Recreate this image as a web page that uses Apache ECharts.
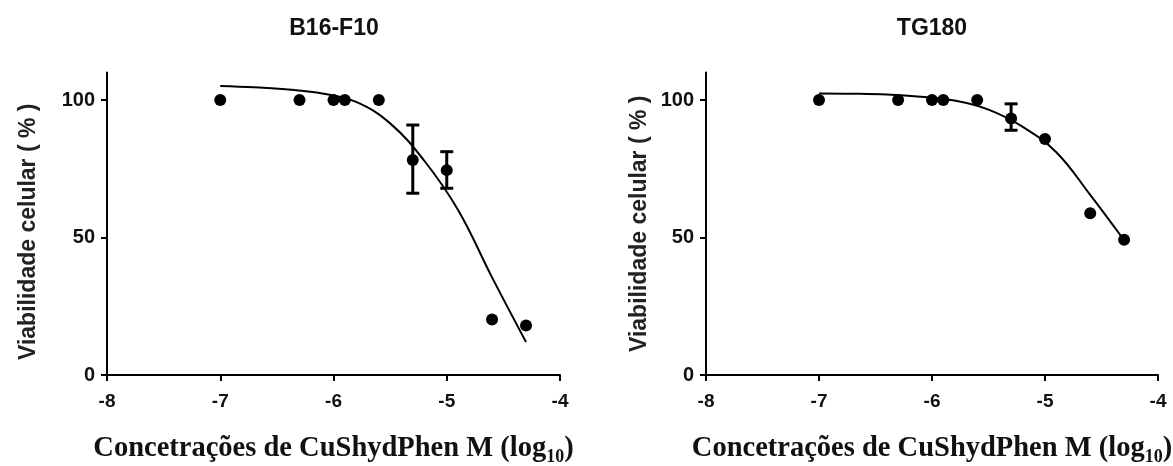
<!DOCTYPE html>
<html><head><meta charset="utf-8">
<script src="https://cdn.jsdelivr.net/npm/echarts@6/dist/echarts.min.js"></script>
<style>html,body{margin:0;padding:0;background:#fff}#chart{width:1173px;height:466px}</style>
</head><body><div id="chart"></div>
<script>
// ---- data ----
const panelTitles = ['B16-F10', 'TG180'];
const xTitle = 'Concetrações de CuShydPhen M (log{sub|10})';
const yTitle = 'Viabilidade celular ( % )';
const xTicks = [-8, -7, -6, -5, -4];
const yTicks = [0, 50, 100];

const logConc = [-7, -6.3, -6, -5.9, -5.6, -5.3, -5, -4.6, -4.3];
const b16Mean  = [100, 100, 100, 100, 100, 78.2, 74.5, 20.2, 18.0];
const b16Upper = [null, null, null, null, null, 90.9, 81.2, null, null];
const b16Lower = [null, null, null, null, null, 66.1, 67.9, null, null];
const tgMean   = [100, 100, 100, 100, 100, 93.3, 85.8, 58.8, 49.2];
const tgUpper  = [null, null, null, null, null, 98.6, null, null, null];
const tgLower  = [null, null, null, null, null, 89.0, null, null, null];

// fitted curves, every 0.3 log units
const fitX   = [-7, -6.7, -6.4, -6.1, -5.8, -5.5, -5.2, -4.9, -4.6, -4.3];
const b16Fit = [105.1, 104.6, 103.8, 102.4, 99.3, 91.5, 78, 60, 35.5, 12];
const tgFit  = [102.4, 102.3, 102.0, 101.2, 99.8, 96.5, 90.3, 81, 65.5, 49];

// ---- chart ----
const SANS = '"Liberation Sans", Arial, sans-serif';
const SERIF = '"Liberation Serif", "Times New Roman", serif';
const zip = (xs, ys) => xs.map((x, i) => [x, ys[i]]);
const bars = (xs, lo, hi) => xs.map((x, i) => [x, lo[i], hi[i]]).filter(d => d[1] != null);

function errorBarItem(params, api) {
  const x = api.value(0), lo = api.value(1), hi = api.value(2);
  const a = api.coord([x, lo]), b = api.coord([x, hi]);
  const hw = 6.5;
  const style = { stroke: '#000', lineWidth: 3 };
  return { type: 'group', children: [
    { type: 'line', shape: { x1: a[0], y1: a[1], x2: b[0], y2: b[1] }, style },
    { type: 'line', shape: { x1: a[0] - hw, y1: a[1], x2: a[0] + hw, y2: a[1] }, style },
    { type: 'line', shape: { x1: b[0] - hw, y1: b[1], x2: b[0] + hw, y2: b[1] }, style }
  ]};
}

const grids = [
  { left: 107, top: 72.5, width: 453, height: 302.5, outerBoundsMode: 'none', containLabel: false },
  { left: 706, top: 72.5, width: 452, height: 302.5, outerBoundsMode: 'none', containLabel: false }
];
const yNameGaps = [67, 55];
const yNamePad = [[0, 16, 0, 0], [0, 0, 0, 0]];

const xAxes = grids.map((g, i) => ({
  type: 'value', gridIndex: i, min: xTicks[0], max: xTicks[xTicks.length - 1], interval: 1,
  splitLine: { show: false },
  axisLine: { onZero: false, lineStyle: { color: '#000', width: 2 } },
  axisTick: { length: 6, lineStyle: { color: '#000', width: 2 } },
  axisLabel: { color: '#111', fontFamily: SANS, fontWeight: 'bold', fontSize: 19, margin: 17 },
  name: xTitle, nameLocation: 'middle', nameGap: 57,
  nameTextStyle: {
    color: '#111', fontFamily: SERIF, fontWeight: 'bold', fontSize: 28.5, lineHeight: 34,
    rich: { sub: { fontFamily: SERIF, fontWeight: 'bold', fontSize: 18, lineHeight: 18, verticalAlign: 'bottom', color: '#111' } }
  }
}));

const yAxes = grids.map((g, i) => ({
  type: 'value', gridIndex: i, min: 0, max: 110, interval: 50,
  splitLine: { show: false },
  axisLine: { show: true, lineStyle: { color: '#000', width: 2 } },
  axisTick: { show: true, length: 6, customValues: yTicks, lineStyle: { color: '#000', width: 2 } },
  axisLabel: { customValues: yTicks, color: '#111', fontFamily: SANS, fontWeight: 'bold', fontSize: 20, margin: 12 },
  name: yTitle, nameLocation: 'middle', nameGap: yNameGaps[i], nameRotate: 90,
  nameTextStyle: { color: '#222', fontFamily: SANS, fontWeight: 'bold', fontSize: 23, padding: yNamePad[i] }
}));

const panels = [
  { mean: b16Mean, lo: b16Lower, hi: b16Upper, fit: b16Fit },
  { mean: tgMean, lo: tgLower, hi: tgUpper, fit: tgFit }
];
const series = [];
panels.forEach((p, i) => {
  series.push({
    type: 'line', xAxisIndex: i, yAxisIndex: i, data: zip(fitX, p.fit), smooth: 0.4,
    showSymbol: false, lineStyle: { color: '#000', width: 2 }, silent: true, z: 2
  });
  series.push({
    type: 'custom', xAxisIndex: i, yAxisIndex: i, data: bars(logConc, p.lo, p.hi),
    renderItem: errorBarItem, z: 3, silent: true
  });
  series.push({
    type: 'scatter', xAxisIndex: i, yAxisIndex: i, data: zip(logConc, p.mean),
    symbol: 'circle', symbolSize: 12, itemStyle: { color: '#000', opacity: 1 }, z: 4, silent: true
  });
});

const titleX = [334, 932];
const graphic = panelTitles.map((t, i) => ({
  type: 'text', x: titleX[i], y: 29,
  style: { text: t, align: 'center', verticalAlign: 'middle', fill: '#111',
           fontFamily: SANS, fontWeight: 'bold', fontSize: 23 }
}));

const chart = echarts.init(document.getElementById('chart'), null, { renderer: 'canvas' });
chart.setOption({
  animation: false, backgroundColor: '#fff',
  grid: grids, xAxis: xAxes, yAxis: yAxes, series, graphic
});
</script>
</body></html>
